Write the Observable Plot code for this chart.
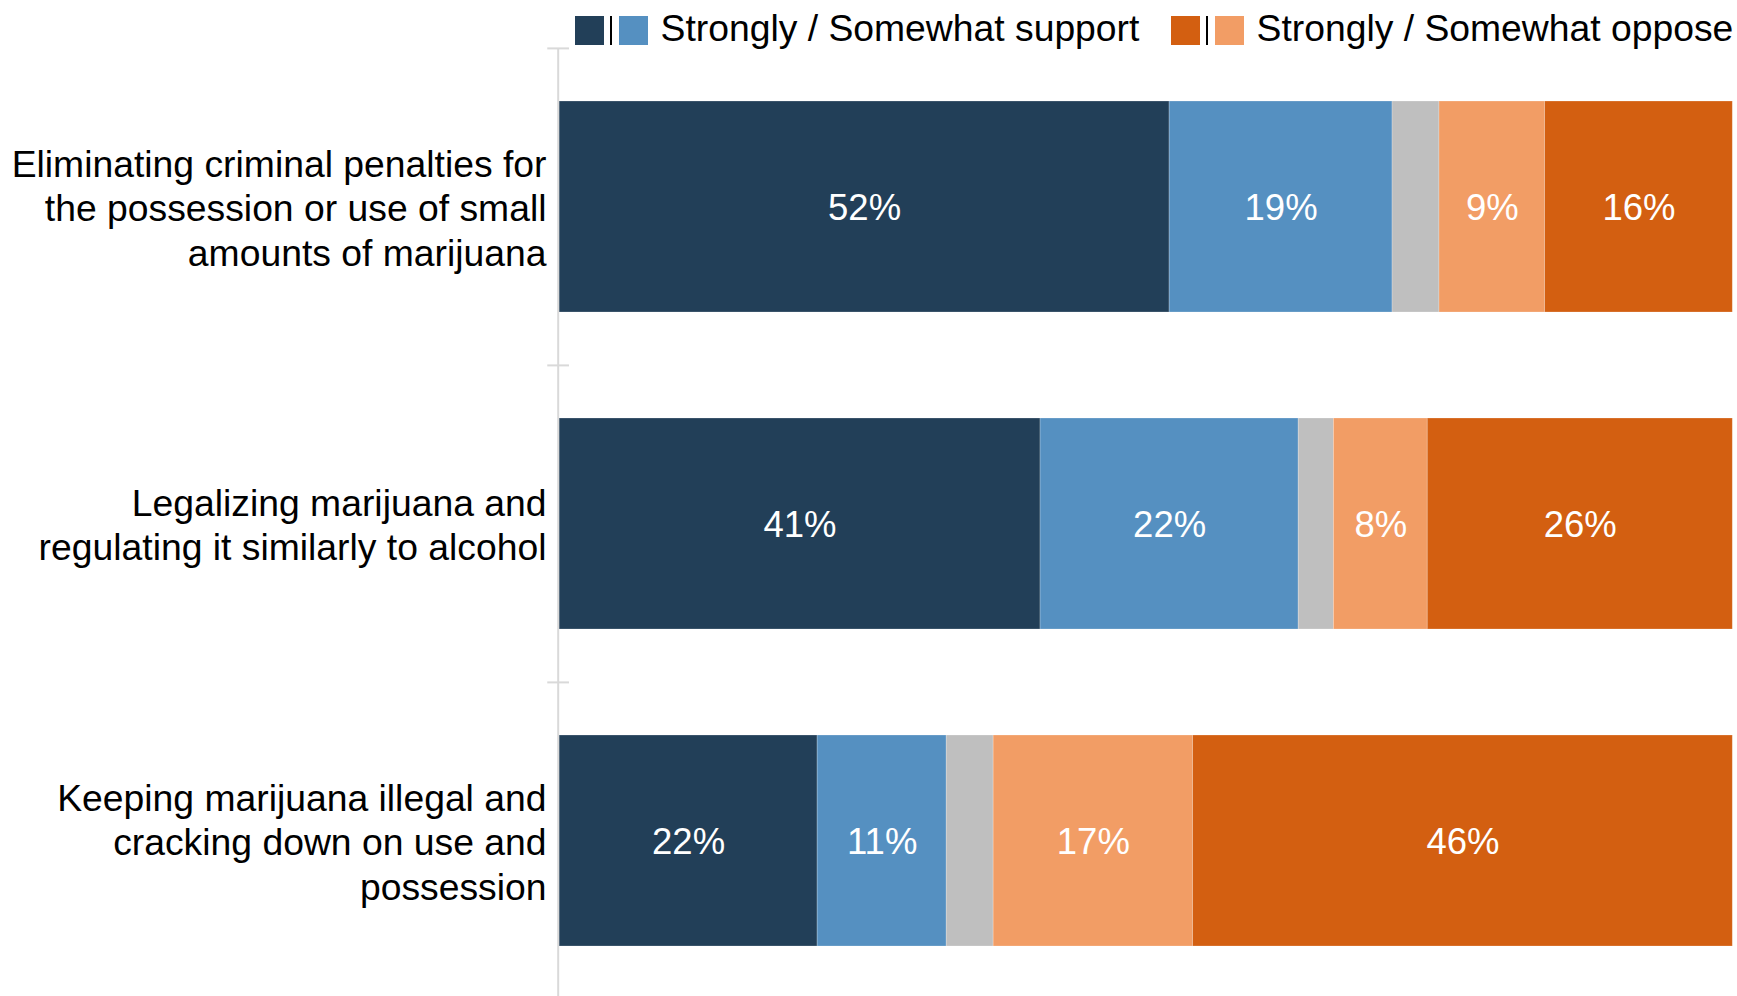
<!DOCTYPE html>
<html>
<head>
<meta charset="utf-8">
<script src="https://cdn.jsdelivr.net/npm/d3@7"></script>
<script src="https://cdn.jsdelivr.net/npm/@observablehq/plot@0.6"></script>
<style>
  body { margin: 0; background: #fff; font-family: "Liberation Sans", Arial, sans-serif; }
  #wrap { position: relative; width: 1737px; height: 996px; overflow: hidden; background: #fff; }
  #chart svg { display: block; }
  .lg-group { position: absolute; top: 15.5px; height: 29px; }
  .sw { position: absolute; top: 0; width: 29px; height: 29px; }
  .sep { position: absolute; top: 0; width: 2px; height: 29px; background: #000; }
  .lg-text { position: absolute; top: -1.5px; line-height: 29px; font-size: 37.3px; color: #000; white-space: nowrap; }
</style>
</head>
<body>
<div id="wrap">
  <div id="chart"></div>
  <div id="legend"></div>
</div>
<script>
// ---- data ----
const questions = [
  "Eliminating criminal penalties for\nthe possession or use of small\namounts of marijuana",
  "Legalizing marijuana and\nregulating it similarly to alcohol",
  "Keeping marijuana illegal and\ncracking down on use and\npossession"
];
const responses = ["Strongly support", "Somewhat support", "Don't know", "Somewhat oppose", "Strongly oppose"];
const stronglySupport = [52, 41, 22];
const somewhatSupport = [19, 22, 11];
const dontKnow = [4, 3, 4];
const somewhatOppose = [9, 8, 17];
const stronglyOppose = [16, 26, 46];
const colors = ["#223F58", "#5590C1", "#BFBFBF", "#F29D65", "#D35F11"];
const legendLabels = ["Strongly / Somewhat support", "Strongly / Somewhat oppose"];

const series = [stronglySupport, somewhatSupport, dontKnow, somewhatOppose, stronglyOppose];
const data = [];
questions.forEach((q, i) => {
  responses.forEach((r, j) => {
    data.push({question: q, response: r, value: series[j][i]});
  });
});

const font = '"Liberation Sans", Arial, sans-serif';
const yRange = [48, 999.6];
const step = (yRange[1] - yRange[0]) / questions.length;

const chart = Plot.plot({
  width: 1737,
  height: 996,
  marginTop: 48,
  marginBottom: 0,
  marginLeft: 559,
  marginRight: 5,
  x: {domain: [0, 100], range: [559, 1732.3], axis: null},
  y: {domain: questions, range: yRange, paddingInner: 0.335, paddingOuter: 0.1675, axis: null},
  color: {domain: responses, range: colors},
  style: {fontFamily: font, background: "white", overflow: "visible"},
  marks: [
    Plot.barX(data, Plot.stackX({
      x: "value", y: "question", fill: "response",
      stroke: "white", strokeOpacity: 0.3, strokeWidth: 0.75
    })),
    Plot.text(data, Plot.stackX({
      x: "value", y: "question",
      text: d => d.response === "Don't know" ? null : `${d.value}%`,
      fill: "white", fontSize: 36.5, dy: 1
    })),
    Plot.text(questions, {
      x: 0, y: d => d, text: d => d,
      textAnchor: "end", dx: -13, fontSize: 37.3, lineHeight: 1.19, fill: "black"
    }),
    Plot.ruleX([0], {stroke: "#d9d9d9", strokeWidth: 2, dx: -1.3}),
    Plot.ruleY(questions, {
      y: d => d, x1: -1, x2: 0.85, dy: -step / 2,
      stroke: "#d9d9d9", strokeWidth: 2
    })
  ]
});
document.getElementById("chart").appendChild(chart);

// ---- legend (HTML, above the plot) ----
const legend = document.getElementById("legend");
const groups = [
  {left: 575, label: legendLabels[0], c: [colors[0], colors[1]]},
  {left: 1171, label: legendLabels[1], c: [colors[4], colors[3]]}
];
for (const g of groups) {
  const el = document.createElement("div");
  el.className = "lg-group";
  el.style.left = g.left + "px";
  el.innerHTML =
    `<div class="sw" style="left:0;background:${g.c[0]}"></div>` +
    `<div class="sep" style="left:35px"></div>` +
    `<div class="sw" style="left:43.5px;background:${g.c[1]}"></div>` +
    `<div class="lg-text" style="left:85.5px">${g.label}</div>`;
  legend.appendChild(el);
}
</script>
</body>
</html>
